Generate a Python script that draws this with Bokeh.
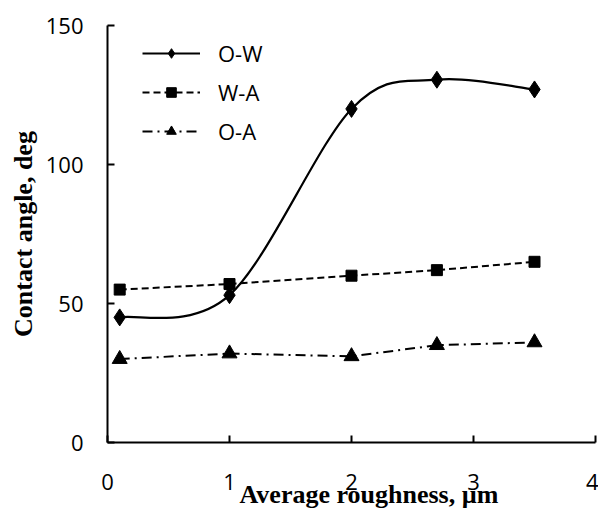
import numpy as np
from bokeh.plotting import figure
from bokeh.models import Range1d, FixedTicker, Legend, LegendItem, Title, ColumnDataSource
from bokeh.embed import file_html
from bokeh.resources import INLINE

# ---- data ----
roughness = [0.1, 1.0, 2.0, 2.7, 3.5]
ow_angle = [45, 53, 120, 130.5, 127]
wa_angle = [55, 57, 60, 62, 65]
oa_angle = [30, 32, 31, 35, 36]
series_names = ["O-W", "W-A", "O-A"]
x_ticks = [0, 1, 2, 3, 4]
y_ticks = [0, 50, 100, 150]
x_title = "Average roughness, µm"
y_title = "Contact angle, deg"

TICK_FONT = "Open Sans"
TITLE_FONT = "Liberation Serif"

p = figure(width=598, height=510, output_backend="svg", toolbar_location=None,
           x_range=Range1d(0, 4), y_range=Range1d(0, 150),
           min_border_left=107, min_border_right=3, min_border_top=25, min_border_bottom=68)
p.outline_line_color = None
p.grid.visible = False
p.background_fill_color = "white"
p.border_fill_color = "white"

for ax in (p.xaxis[0], p.yaxis[0]):
    ax.axis_line_width = 2
    ax.axis_line_color = "black"
    ax.major_tick_line_width = 2
    ax.major_tick_line_color = "black"
    ax.major_tick_in = 7
    ax.major_tick_out = 0
    ax.minor_tick_line_color = None
    ax.major_label_text_font = TICK_FONT
    ax.major_label_text_font_size = "22px"
    ax.major_label_text_color = "black"

p.xaxis[0].ticker = FixedTicker(ticks=x_ticks)
p.yaxis[0].ticker = FixedTicker(ticks=y_ticks)
p.xaxis[0].major_label_standoff = 31
p.yaxis[0].major_label_standoff = 24

p.yaxis[0].axis_label = y_title
p.yaxis[0].axis_label_text_font = TITLE_FONT
p.yaxis[0].axis_label_text_font_style = "bold"
p.yaxis[0].axis_label_text_font_size = "26px"
p.yaxis[0].axis_label_text_color = "black"
p.yaxis[0].axis_label_standoff = 5

# ---- O-W smooth curve (Catmull-Rom style bezier from data) ----
xs = np.array(roughness, dtype=float)
ys = np.array(ow_angle, dtype=float)
xp = np.concatenate([[xs[0]], xs, [xs[-1]]])
yp = np.concatenate([[ys[0]], ys, [ys[-1]]])
n = len(xs)
cx0 = xs[:-1] + (xp[2:n + 1] - xp[0:n - 1]) / 6.0
cy0 = ys[:-1] + (yp[2:n + 1] - yp[0:n - 1]) / 6.0
cx1 = xs[1:] - (xp[3:n + 2] - xp[1:n]) / 6.0
cy1 = ys[1:] - (yp[3:n + 2] - yp[1:n]) / 6.0
bsrc = ColumnDataSource(dict(x0=xs[:-1], y0=ys[:-1], x1=xs[1:], y1=ys[1:],
                             cx0=cx0, cy0=cy0, cx1=cx1, cy1=cy1))
ow_curve = p.bezier(x0="x0", y0="y0", x1="x1", y1="y1", cx0="cx0", cy0="cy0",
                    cx1="cx1", cy1="cy1", source=bsrc, line_color="black", line_width=2.2)
ow_pts = p.scatter(roughness, ow_angle, marker="diamond", size=17,
                   fill_color="black", line_color="black")

wa_line = p.line(roughness, wa_angle, line_color="black", line_width=2, line_dash="7 4")
wa_pts = p.scatter(roughness, wa_angle, marker="square", size=11,
                   fill_color="black", line_color="black")

oa_line = p.line(roughness, oa_angle, line_color="black", line_width=2, line_dash="10 5 2 5")
oa_pts = p.scatter(roughness, oa_angle, marker="triangle", size=15,
                   fill_color="black", line_color="black")

legend = Legend(items=[
    LegendItem(label=series_names[0], renderers=[ow_curve, ow_pts]),
    LegendItem(label=series_names[1], renderers=[wa_line, wa_pts]),
    LegendItem(label=series_names[2], renderers=[oa_line, oa_pts]),
], location=(35, 296))
legend.border_line_color = None
legend.background_fill_alpha = 0
legend.padding = 0
legend.margin = 0
legend.glyph_width = 58
legend.glyph_height = 24
legend.label_height = 24
legend.spacing = 9
legend.label_standoff = 18
legend.label_text_font = TICK_FONT
legend.label_text_font_size = "22px"
legend.label_text_color = "black"
legend.label_text_baseline = "middle"
p.add_layout(legend, "center")

xlab = Title(text=x_title, align="left", offset=132, standoff=-29,
             text_font=TITLE_FONT, text_font_style="bold", text_font_size="26px",
             text_color="black")
p.add_layout(xlab, "below")

open("out.html", "w").write(file_html(p, INLINE))
